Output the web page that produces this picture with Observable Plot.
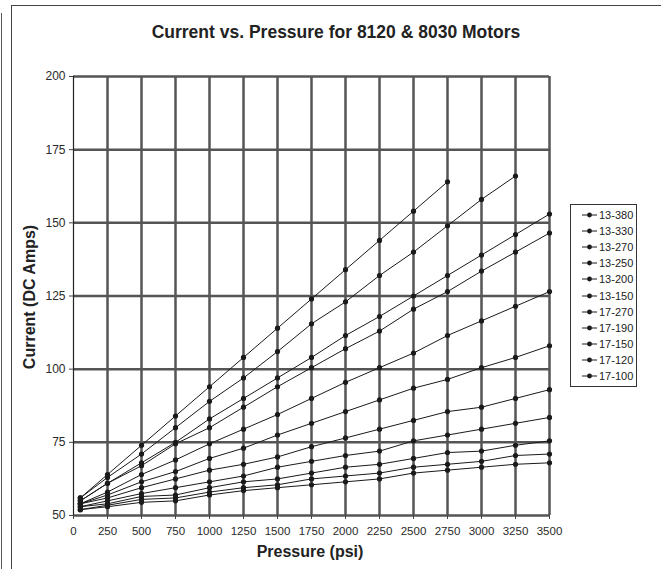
<!DOCTYPE html>
<html>
<head>
<meta charset="utf-8">
<script src="https://cdn.jsdelivr.net/npm/d3@7"></script>
<script src="https://cdn.jsdelivr.net/npm/@observablehq/plot@0.6"></script>
<style>
  html, body { margin: 0; padding: 0; background: #fff; overflow: hidden; }
  #wrap { position: relative; width: 661px; height: 569px; overflow: hidden; font-family: "Liberation Sans", Arial, sans-serif; }
  #wrap svg { position: absolute; left: 0; top: 0; }
  .abs { position: absolute; }
  #frame { left: 11px; top: 5px; width: 700px; height: 700px; border-left: 1.5px solid #444; border-top: 1px solid #444; }
  #edge { left: 1px; top: 13px; width: 0; height: 600px; border-left: 1.5px solid #555; }
  #title { left: 11px; width: 650px; top: 22px; text-align: center; font-weight: bold; font-size: 17.5px; color: #222; }
  #ylab { left: 30px; top: 297px; transform: translate(-50%, -50%) rotate(-90deg); white-space: nowrap; font-weight: bold; font-size: 16px; color: #222; }
  #xlab { left: 310px; top: 552px; transform: translate(-50%, -50%); white-space: nowrap; font-weight: bold; font-size: 16px; color: #222; }
  #legend { left: 570px; top: 204px; width: 67px; height: 183px; box-sizing: border-box; border: 1px solid #333; background: #fff; padding-top: 1.5px; }
  .row { height: 16.2px; display: flex; align-items: center; font-size: 11px; color: #222; }
  .row svg { position: static !important; margin-left: 10px; margin-right: 1px; }
</style>
</head>
<body>
<div id="wrap">
  <div id="chart"></div>
  <div id="edge" class="abs"></div>
  <div id="frame" class="abs"></div>
  <div id="title" class="abs">Current vs. Pressure for 8120 &amp; 8030 Motors</div>
  <div id="ylab" class="abs">Current (DC Amps)</div>
  <div id="xlab" class="abs">Pressure (psi)</div>
  <div id="legend" class="abs"></div>
</div>
<script>
// ---- data ----
const pressure = [50, 250, 500, 750, 1000, 1250, 1500, 1750, 2000, 2250, 2500, 2750, 3000, 3250, 3500];
const seriesNames = ["13-380", "13-330", "13-270", "13-250", "13-200", "13-150", "17-270", "17-190", "17-150", "17-120", "17-100"];
const m13_380 = [56, 64, 74, 84, 94, 104, 114, 124, 134, 144, 154, 164];
const m13_330 = [56, 63, 71, 80, 89, 97, 106, 115.5, 123, 132, 140, 149, 158, 166];
const m13_270 = [55, 61, 68, 75, 83, 90, 97, 104, 111.5, 118, 125, 132, 139, 146, 153];
const m13_250 = [55, 61, 67, 74.5, 80, 87, 94, 100.5, 107, 113, 120.5, 126.5, 133.5, 140, 146.5];
const m13_200 = [54, 58, 64, 69, 74.5, 79.5, 84.5, 90, 95.5, 100.5, 105.5, 111.5, 116.5, 121.5, 126.5];
const m13_150 = [54, 57, 61.5, 65, 69.5, 73, 77.5, 81.5, 85.5, 89.5, 93.5, 96.5, 100.5, 104, 108];
const m17_270 = [54, 56, 59.5, 62.5, 65.5, 67.5, 70, 73.5, 76.5, 79.5, 82.5, 85.5, 87, 90, 93];
const m17_190 = [53, 55, 57.5, 59.5, 61.5, 63.5, 66.5, 68.5, 70.5, 72, 75.5, 77.5, 79.5, 81.5, 83.5];
const m17_150 = [53, 54, 56.5, 57, 59.5, 61.5, 62.5, 64.5, 66.5, 67.5, 69.5, 71.5, 72, 74, 75.5];
const m17_120 = [52, 53.5, 55.5, 56, 58, 59.5, 60.5, 62.5, 63.5, 64.5, 66.5, 67.5, 68.5, 70.5, 71];
const m17_100 = [52, 53, 54.5, 55, 57, 58.5, 59.5, 60.5, 61.5, 62.5, 64.5, 65.5, 66.5, 67.5, 68];
const seriesValues = [m13_380, m13_330, m13_270, m13_250, m13_200, m13_150, m17_270, m17_190, m17_150, m17_120, m17_100];
const xTicks = [0, 250, 500, 750, 1000, 1250, 1500, 1750, 2000, 2250, 2500, 2750, 3000, 3250, 3500];
const yTicks = [50, 75, 100, 125, 150, 175, 200];

const data = seriesNames.flatMap((name, i) =>
  seriesValues[i].map((v, j) => ({series: name, pressure: pressure[j], amps: v})));

const chart = Plot.plot({
  width: 661,
  height: 569,
  marginLeft: 73,
  marginRight: 112,
  marginTop: 76,
  marginBottom: 54,
  style: {fontFamily: "Liberation Sans, Arial, sans-serif", background: "transparent", color: "#2a2a2a"},
  x: {domain: [0, 3500]},
  y: {domain: [50, 200]},
  marks: [
    Plot.ruleX(xTicks.filter(d => d > 0), {stroke: "#555", strokeWidth: 2.5}),
    Plot.ruleY(yTicks, {stroke: "#555", strokeWidth: 2.5}),
    Plot.ruleX([0], {stroke: "#222", strokeWidth: 1.2}),
    Plot.axisX({ticks: xTicks, tickFormat: d => String(d), tickSize: 4, tickPadding: 7, fontSize: 11.5, stroke: "#444", label: null}),
    Plot.axisY({ticks: yTicks, tickFormat: d => String(d), tickSize: 4, tickPadding: 4, fontSize: 12, stroke: "#444", label: null}),
    Plot.line(data, {x: "pressure", y: "amps", z: "series", stroke: "#1a1a1a", strokeWidth: 1}),
    Plot.dot(data, {x: "pressure", y: "amps", r: 2.6, fill: "#1a1a1a", stroke: "none"})
  ]
});
document.getElementById("chart").appendChild(chart);

// legend
const legend = document.getElementById("legend");
for (const name of seriesNames) {
  const row = document.createElement("div");
  row.className = "row";
  row.innerHTML = `<svg width="17" height="8"><line x1="1" y1="4" x2="16" y2="4" stroke="#1a1a1a" stroke-width="1"/><circle cx="8.5" cy="4" r="2.4" fill="#1a1a1a"/></svg><span>${name}</span>`;
  legend.appendChild(row);
}
</script>
</body>
</html>
